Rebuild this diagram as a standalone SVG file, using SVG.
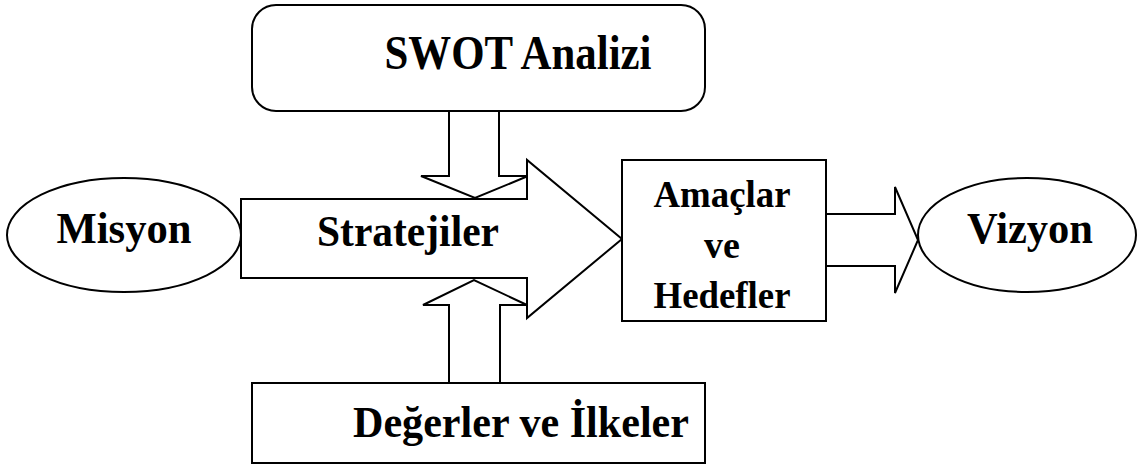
<svg xmlns="http://www.w3.org/2000/svg" width="1137" height="466" viewBox="0 0 1137 466">
  <style>
    .shape { fill: #ffffff; stroke: #000000; stroke-width: 2; stroke-linejoin: miter; }
    .label { font-family: "Liberation Serif", "Times New Roman", serif; font-weight: bold; fill: #000000; text-anchor: middle; }
  </style>
  <rect width="1137" height="466" fill="#ffffff"/>

  <!-- block arrows linking the boxes -->
  <g id="connectors">
    <!-- SWOT down into strategies -->
    <path class="shape" d="M449,110 L449,176 L421,176 L475,198 L528,176 L499,176 L499,110"/>
    <!-- values up into strategies -->
    <path class="shape" d="M449,383 L449,305 L423,305 L474,280 L527,305 L500,305 L500,383"/>
    <!-- goals to vision -->
    <path class="shape" d="M826,214 L895,214 L895,187 L918,240 L895,293 L895,266 L826,266"/>
  </g>

  <g id="swot">
    <rect class="shape" x="252" y="5" width="453" height="106" rx="24" ry="24"/>
    <text class="label" x="518" y="69" font-size="48" textLength="267" lengthAdjust="spacingAndGlyphs">SWOT Analizi</text>
  </g>

  <g id="stratejiler">
    <path class="shape" d="M241,199 L527,199 L527,160 L622,239 L527,318 L527,278 L241,278 Z"/>
    <text class="label" x="408" y="246" font-size="45" textLength="182" lengthAdjust="spacingAndGlyphs">Stratejiler</text>
  </g>

  <g id="misyon">
    <ellipse class="shape" cx="124" cy="235" rx="117" ry="57"/>
    <text class="label" x="124" y="243" font-size="45" textLength="135" lengthAdjust="spacingAndGlyphs">Misyon</text>
  </g>

  <g id="amaclar">
    <rect class="shape" x="622" y="160" width="204" height="161"/>
    <text class="label" x="722" y="207" font-size="38" textLength="137" lengthAdjust="spacingAndGlyphs">Amaçlar</text>
    <text class="label" x="722" y="258" font-size="38">ve</text>
    <text class="label" x="722" y="308" font-size="38" textLength="137" lengthAdjust="spacingAndGlyphs">Hedefler</text>
  </g>

  <g id="vizyon">
    <ellipse class="shape" cx="1027" cy="235" rx="109" ry="57"/>
    <text class="label" x="1030" y="243" font-size="45" textLength="126" lengthAdjust="spacingAndGlyphs">Vizyon</text>
  </g>

  <g id="degerler">
    <rect class="shape" x="252" y="383" width="453" height="80"/>
    <text class="label" x="521" y="437" font-size="45" textLength="336" lengthAdjust="spacingAndGlyphs">Değerler ve İlkeler</text>
  </g>
</svg>
